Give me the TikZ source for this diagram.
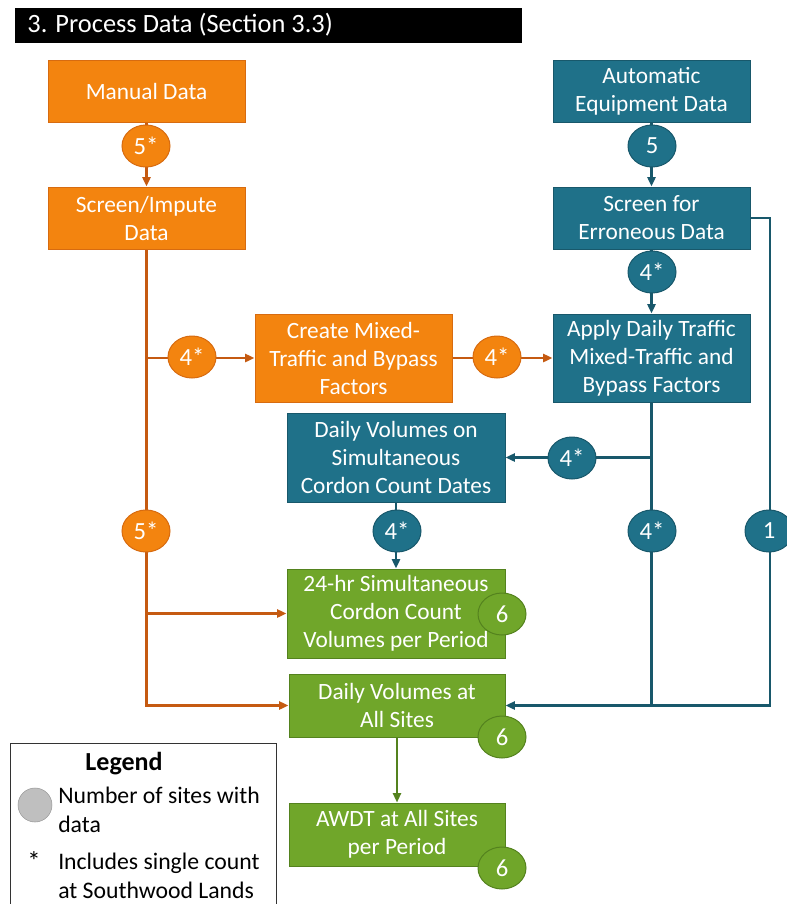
\documentclass[tikz,border=0pt]{standalone}
\usepackage{fontspec}
\setmainfont{Carlito}
\usetikzlibrary{arrows.meta,shapes.geometric,backgrounds}

\definecolor{orangefill}{RGB}{243,132,15}
\definecolor{orangeline}{RGB}{197,90,17}
\definecolor{tealfill}{RGB}{31,113,137}
\definecolor{tealline}{RGB}{24,88,107}
\definecolor{greenfill}{RGB}{112,166,42}
\definecolor{greenline}{RGB}{84,130,30}
\definecolor{legendgrey}{RGB}{191,191,191}

\tikzset{every picture/.style={line width=0.75pt}}
\tikzset{
  boxtext/.style={font=\fontsize{17.5}{21}\selectfont, text=white, align=center, inner sep=0pt},
  obox/.style={boxtext, rectangle, fill=orangefill, draw=orangeline!60!orangefill, line width=0.75pt},
  tbox/.style={boxtext, rectangle, fill=tealfill, draw=tealline, line width=0.75pt},
  gbox/.style={boxtext, rectangle, fill=greenfill, draw=greenline, line width=0.75pt},
  bubble/.style={boxtext, font=\fontsize{18.5}{21}\selectfont, ellipse, minimum width=36pt, minimum height=31.5pt},
  obubble/.style={bubble, fill=orangefill, draw=orangeline!60!orangefill},
  tbubble/.style={bubble, fill=tealfill, draw=tealline},
  gbubble/.style={bubble, fill=greenfill, draw=greenline},
  oline/.style={draw=orangeline, line width=2pt},
  tline/.style={draw=tealline, line width=2pt},
  gline/.style={draw=greenline, line width=1.5pt},
  tip/.style={-{Triangle[length=7pt,width=6pt]}},
}

\begin{document}
\begin{tikzpicture}[x=0.75pt,y=0.75pt,yscale=-1,xscale=1]
	\useasboundingbox (0,0) rectangle (787,904);

	%Title bar
	\fill[black] (15,8) rectangle (522,43);
	\node[anchor=west, text=white, inner sep=0pt, font=\fontsize{19.8}{23}\selectfont] (title) at (27,25) {3. Process Data (Section 3.3)};

	%Orange boxes
	\node[obox, minimum width=147.75pt, minimum height=46.5pt] (manual) at (146.5,91) {Manual Data};
	\node[obox, minimum width=147.75pt, minimum height=46.5pt] (screenimp) at (146.5,218) {Screen/Impute\\Data};
	\node[obox, minimum width=147.75pt, minimum height=66pt] (create) at (353.5,358) {Create Mixed-\\Traffic and Bypass\\Factors};

	%Teal boxes
	\node[tbox, minimum width=147.75pt, minimum height=46.5pt] (auto) at (651.5,91) {Automatic\\Equipment Data};
	\node[tbox, minimum width=147.75pt, minimum height=46.5pt] (screenerr) at (651.5,218) {Screen for\\Erroneous Data};
	\node[tbox, minimum width=147.75pt, minimum height=66pt] (apply) at (651.5,358) {Apply Daily Traffic\\Mixed-Traffic and\\Bypass Factors};
	\node[tbox, minimum width=163.5pt, minimum height=66.75pt] (dvcordon) at (396,457.5) {Daily Volumes on\\Simultaneous\\Cordon Count Dates};

	%Green boxes
	\node[gbox, minimum width=163.5pt, minimum height=66.75pt] (hr24) at (396,613.5) {24-hr Simultaneous\\Cordon Count\\Volumes per Period};
	\node[gbox, minimum width=162pt, minimum height=47.25pt] (dvall) at (397,705.5) {Daily Volumes at\\All Sites};
	\node[gbox, minimum width=162pt, minimum height=47.25pt] (awdt) at (397,834.5) {AWDT at All Sites\\per Period};

	%Bubbles
	\node[obubble] (nmanual) at (146,146) {5*};
	\node[tbubble] (nauto) at (652,146) {5};
	\node[tbubble] (nscreen) at (652,272) {4*};
	\node[obubble] (ncreate) at (192,357) {4*};
	\node[obubble] (napply) at (497,357) {4*};
	\node[tbubble] (ncordon) at (572,458) {4*};
	\node[obubble] (nimp) at (146,531) {5*};
	\node[tbubble] (ndates) at (397,531) {4*};
	\node[tbubble] (nfactors) at (652,531) {4*};
	\node[tbubble] (nerr) at (769,531) {1};
	\node[gbubble] (nhr) at (502,614) {6};
	\node[gbubble] (nall) at (502,737) {6};
	\node[gbubble] (nawdt) at (502,868) {6};

	\coordinate (rtop) at (770,218);

	%Connectors
	\begin{pgfonlayer}{background}
	\draw[oline, tip] (manual) -- (screenimp);
	\draw[oline, tip] (screenimp.south) |- (dvall.west);
	\draw[oline, tip] (screenimp.south |- create.west) -- (create.west);
	\draw[oline, tip] (screenimp.south |- hr24.west) -- (hr24.west);
	\draw[oline, tip] (create) -- (apply);

	\draw[tline, tip] (auto) -- (screenerr);
	\draw[tline, tip] (screenerr) -- (apply);
	\draw[tline, tip] (screenerr.east) -- (rtop) |- (dvall.east);
	\draw[tline] (apply.south) -- (apply.south |- dvall.east);
	\draw[tline, tip] (apply.south |- dvcordon.east) -- (dvcordon.east);
	\draw[tline, tip] (dvcordon) -- (hr24);

	\draw[gline, tip] (dvall) -- (awdt);
	\end{pgfonlayer}

	%Legend
	\draw[black!80, line width=0.75pt] (10,743) rectangle (276,915);
	\node[font=\fontsize{19.5}{22}\selectfont\bfseries, inner sep=0pt] (legend) at (124,764) {Legend};
	\node[circle, fill=legendgrey, draw=black!40, minimum size=25.5pt, inner sep=0pt] (legcircle) at (35,805) {};
	\node[anchor=west, align=left, inner sep=0pt, font=\fontsize{17.8}{21.75}\selectfont] (legsites) at (58,810) {Number of sites with\\data};
	\node[inner sep=0pt, font=\fontsize{20}{21}\selectfont] (legstar) at (34,861) {*};
	\node[anchor=west, align=left, inner sep=0pt, font=\fontsize{17.8}{21.75}\selectfont] (legsingle) at (58,876) {Includes single count\\at Southwood Lands};

\end{tikzpicture}
\end{document}
